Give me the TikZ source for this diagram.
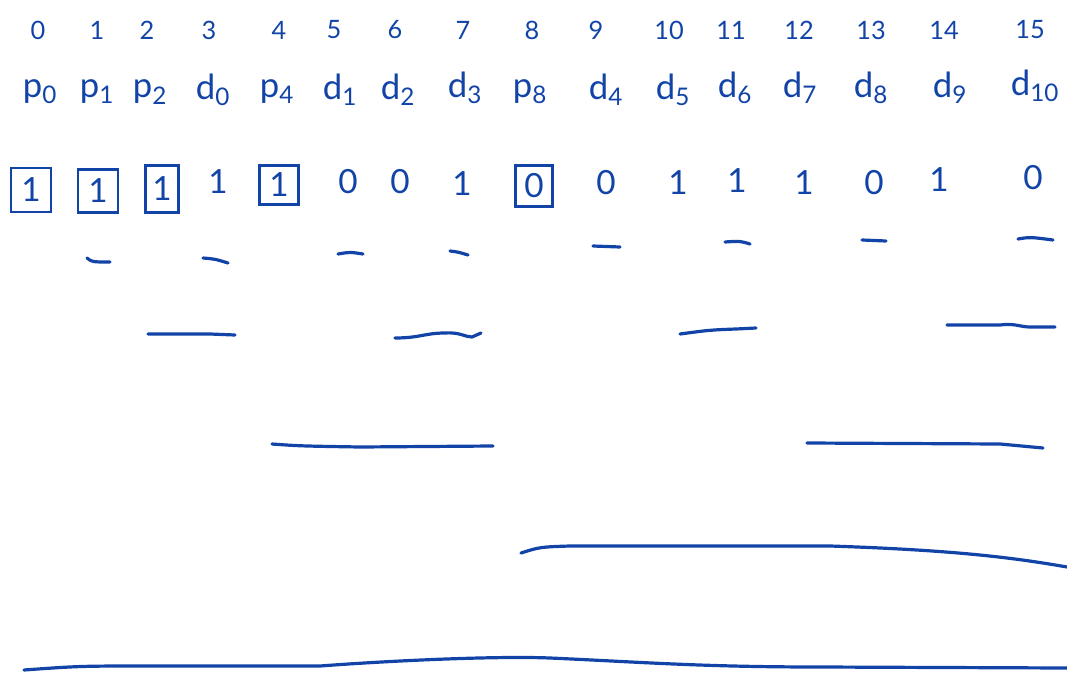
\documentclass[tikz,border=0pt]{standalone}
\usepackage{fontspec}
\setmainfont{Lato}
\definecolor{ink}{RGB}{18,68,168}
\begin{document}
\begin{tikzpicture}[x=0.75pt,y=-0.75pt,
  idx/.style={text=ink,font=\fontsize{19}{21}\selectfont,inner sep=0pt},
  lbl/.style={text=ink,font=\fontsize{26}{28}\selectfont,inner sep=0pt},
  val/.style={text=ink,font=\fontsize{25}{27}\selectfont,inner sep=0pt},
  bitbox/.style={val,draw=ink,line width=1.8pt},
  stroke/.style={draw=ink,line width=2.4pt,line cap=round,line join=round}]
\useasboundingbox (0,0) rectangle (1067,674);
% index row
\foreach \i/\x in {0/38,1/97,2/147,3/209,4/279,5/334,6/395,7/463,8/532,9/596,10/669,11/731,12/799,13/871,14/944,15/1030}
  \node[idx] (n\i) at (\x,30) {\i};
% label row
\node[lbl] (l0) at (40,92) {p$_{\mathrm{0}}$};
\node[lbl] (l1) at (97,92) {p$_{\mathrm{1}}$};
\node[lbl] (l2) at (150,92) {p$_{\mathrm{2}}$};
\node[lbl] (l3) at (213,90) {d$_{\mathrm{0}}$};
\node[lbl] (l4) at (277,92) {p$_{\mathrm{4}}$};
\node[lbl] (l5) at (340,90) {d$_{\mathrm{1}}$};
\node[lbl] (l6) at (398,90) {d$_{\mathrm{2}}$};
\node[lbl] (l7) at (465,88) {d$_{\mathrm{3}}$};
\node[lbl] (l8) at (530,92) {p$_{\mathrm{8}}$};
\node[lbl] (l9) at (606,90) {d$_{\mathrm{4}}$};
\node[lbl] (l10) at (673,90) {d$_{\mathrm{5}}$};
\node[lbl] (l11) at (735,88) {d$_{\mathrm{6}}$};
\node[lbl] (l12) at (800,88) {d$_{\mathrm{7}}$};
\node[lbl] (l13) at (871,88) {d$_{\mathrm{8}}$};
\node[lbl] (l14) at (950,88) {d$_{\mathrm{9}}$};
\node[lbl] (l15) at (1035,86) {d$_{\mathrm{10}}$};
% value row
\node[bitbox,minimum width=30pt,minimum height=33pt] (v0) at (31,190) {1};
\node[bitbox,minimum width=30pt,minimum height=32pt] (v1) at (98,191) {1};
\node[bitbox,minimum width=25pt,minimum height=35pt] (v2) at (162,189) {1};
\node[val] (v3) at (218,182) {1};
\node[bitbox,minimum width=29pt,minimum height=29pt] (v4) at (279,185) {1};
\node[val] (v5) at (348,182) {0};
\node[val] (v6) at (400,182) {0};
\node[val] (v7) at (462,184) {1};
\node[bitbox,minimum width=28pt,minimum height=31pt] (v8) at (534,186) {0};
\node[val] (v9) at (606,183) {0};
\node[val] (v10) at (678,183) {1};
\node[val] (v11) at (737,181) {1};
\node[val] (v12) at (804,183) {1};
\node[val] (v13) at (874,183) {0};
\node[val] (v14) at (939,180) {1};
\node[val] (v15) at (1033,178) {0};
% level 1 strokes
\draw[stroke] (87,258) .. controls (92,262) .. (110,262);
\draw[stroke] (203,258) .. controls (215,259) .. (228,263);
\draw[stroke] (338,254) .. controls (350,252) .. (363,254);
\draw[stroke] (450,251) .. controls (458,252) .. (468,255);
\draw[stroke] (593,246) -- (620,247);
\draw[stroke] (725,242) .. controls (740,241) .. (750,244);
\draw[stroke] (862,240) -- (886,241);
\draw[stroke] (1018,239) .. controls (1030,237) .. (1053,240);
% level 2 strokes
\draw[stroke] (148,334) -- (210,334) -- (235,335);
\draw[stroke] (395,338) .. controls (420,338) and (425,333) .. (445,333) .. controls (460,332) and (465,337) .. (472,337) -- (481,333);
\draw[stroke] (680,334) .. controls (710,330) .. (736,329) -- (756,328);
\draw[stroke] (947,325) -- (1000,325) .. controls (1015,323) and (1020,327) .. (1030,327) -- (1055,327);
% level 3 strokes
\draw[stroke] (272,444) .. controls (300,446) .. (360,447) -- (493,446);
\draw[stroke] (807,443) -- (1000,444) -- (1043,448);
% level 4 stroke
\draw[stroke] (521,553) .. controls (540,547) .. (570,546) -- (830,546) .. controls (950,550) and (1010,557) .. (1067,567);
% level 5 stroke
\draw[stroke] (24,670) .. controls (80,666) .. (150,666) -- (320,666) .. controls (400,660) and (500,656) .. (550,658) .. controls (640,662) and (700,667) .. (820,667) -- (1067,668);
\end{tikzpicture}
\end{document}
